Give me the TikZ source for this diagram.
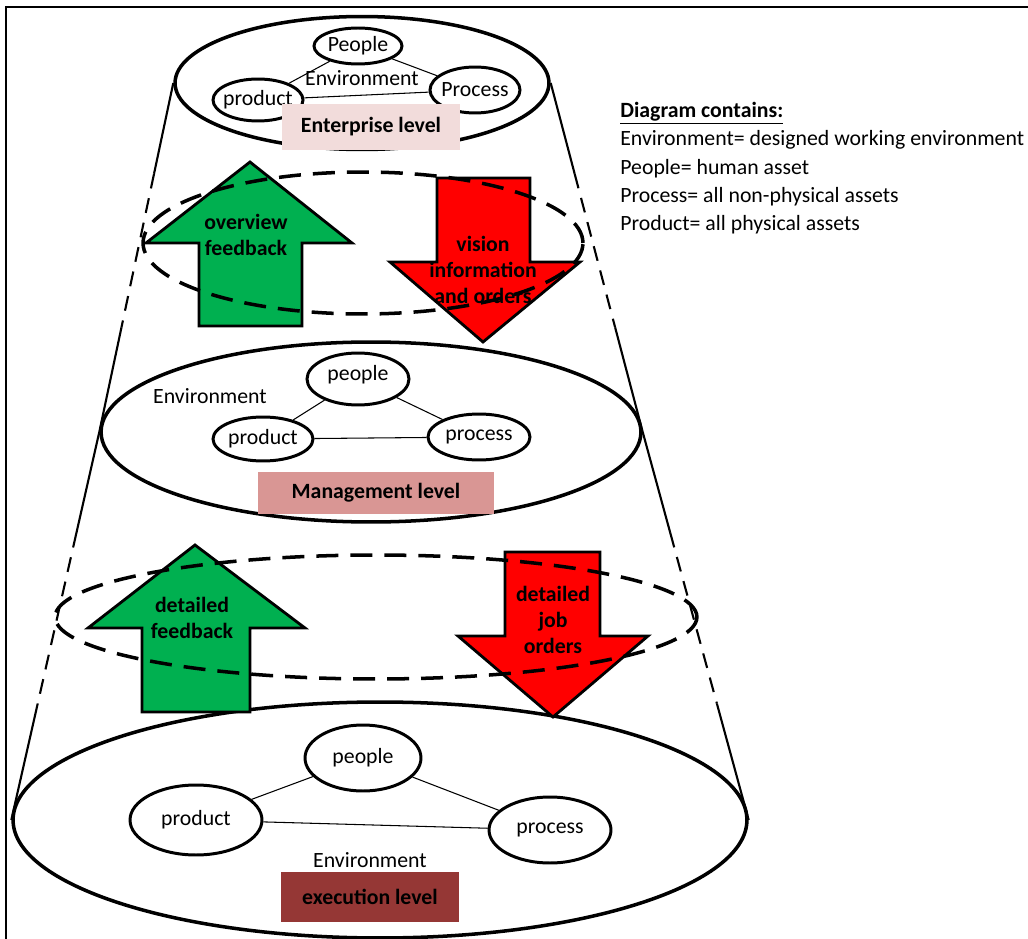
\documentclass[tikz,border=0pt]{standalone}
\usepackage{fontspec}
\setmainfont{Carlito}
\usetikzlibrary{shapes.geometric,positioning,calc}
\definecolor{lvlpink}{RGB}{242,220,219}
\definecolor{lvlrose}{RGB}{217,150,148}
\definecolor{lvlbrown}{RGB}{149,55,53}
\definecolor{upgreen}{RGB}{0,176,80}
\definecolor{downred}{RGB}{255,0,0}

\begin{document}
\begin{tikzpicture}[x=0.02cm, y=-0.02cm,
  font=\fontsize{12.4}{14.7}\selectfont,
  level/.style={draw, ellipse, line width=2pt, inner sep=0pt},
  part/.style={draw, ellipse, line width=1.7pt, inner xsep=-6pt, inner ysep=0pt},
  ring/.style={draw, ellipse, line width=2pt, dash pattern=on 0.44cm off 0.24cm, inner sep=0pt},
  tag/.style={rectangle, inner sep=0pt, font=\fontsize{12.4}{14.7}\selectfont\bfseries},
  link/.style={draw, line width=0.6pt},
  side/.style={draw, line width=1.2pt},
  flow/.style={draw, line width=1.6pt, line join=miter},
  flowtext/.style={align=center, inner sep=0pt, font=\fontsize{12.4}{14.7}\selectfont\bfseries}
]
  \useasboundingbox (0,0) rectangle (1028,939);

  % Frame
  \draw[line width=1.3pt] (1028,7) -- (6,7) -- (6,939);

  % Level ellipses
  \node[level, minimum width=7.48cm, minimum height=2.66cm] (ent) at (362,83) {};
  \node[level, minimum width=10.8cm, minimum height=3.6cm] (mgmt) at (371,432) {};
  \node[level, minimum width=14.68cm, minimum height=4.72cm] (exec) at (380,820) {};

  % Cone sides
  \foreach \a/\b in {ent.west/mgmt.west, ent.east/mgmt.east, mgmt.west/exec.west, mgmt.east/exec.east} {
    \draw[side] (\a) -- ($(\a)!0.26!(\b)$);
    \draw[side, dash pattern=on 0.3cm off 0.2cm] ($(\a)!0.26!(\b)$) -- ($(\a)!0.7!(\b)$);
    \draw[side] ($(\a)!0.7!(\b)$) -- (\b);
  }

  % Upper arrows
  \draw[flow, fill=upgreen] (250,162) -- (352,243) -- (302,243) -- (302,326) -- (199,326) -- (199,243) -- (146,243) -- cycle;
  \node[flowtext] (up1) at (246,235) {overview\\feedback};
  \draw[flow, fill=downred] (437,178) -- (530,178) -- (530,262) -- (580,262) -- (483,342) -- (390,262) -- (437,262) -- cycle;
  \node[flowtext] (down1) at (483,270) {vision\\information\\and orders};

  % Lower arrows
  \draw[flow, fill=upgreen] (195,545) -- (305,628) -- (250,628) -- (250,712) -- (142,712) -- (142,628) -- (88,628) -- cycle;
  \node[flowtext] (up2) at (192,618) {detailed\\feedback};
  \draw[flow, fill=downred] (505,552) -- (600,552) -- (600,636) -- (648,636) -- (553,717) -- (458,636) -- (505,636) -- cycle;
  \node[flowtext] (down2) at (553,620) {detailed\\job\\orders};

  % Dashed rings
  \node[ring, minimum width=8.8cm, minimum height=2.84cm] (ring1) at (363,243) {};
  \node[ring, minimum width=12.84cm, minimum height=2.48cm] (ring2) at (376,617) {};

  % Enterprise parts
  \node[part, minimum width=1.76cm, minimum height=0.72cm] (ent-people) at (358,46) {People};
  \node[part, minimum width=1.8cm, minimum height=0.84cm] (ent-product) at (258,100) {product};
  \node[part, minimum width=1.8cm, minimum height=0.92cm] (ent-process) at (475,90) {Process};
  \node (ent-env) at (362,78) {Environment};

  % Management parts
  \node[part, minimum width=2.04cm, minimum height=1.04cm, text depth=0.25cm] (mgmt-people) at (358,379) {people};
  \node[part, minimum width=2.0cm, minimum height=0.88cm] (mgmt-product) at (263,439) {product};
  \node[part, minimum width=2.04cm, minimum height=0.92cm] (mgmt-process) at (479,437) {process};
  \node (mgmt-env) at (210,396) {Environment};

  % Execution parts
  \node[part, minimum width=2.32cm, minimum height=1.32cm] (exec-people) at (363,758) {people};
  \node[part, minimum width=2.64cm, minimum height=1.4cm] (exec-product) at (196,820) {product};
  \node[part, minimum width=2.44cm, minimum height=1.32cm] (exec-process) at (550,830) {process};
  \node (exec-env) at (370,860) {Environment};

  % Links
  \foreach \lv in {ent,mgmt,exec} {
    \draw[link] (\lv-people) -- (\lv-product);
    \draw[link] (\lv-people) -- (\lv-process);
    \draw[link] (\lv-product) -- (\lv-process);
  }

  % Level tags
  \node[tag, fill=lvlpink, minimum width=3.56cm, minimum height=0.94cm] (ent-tag) at (371,127) {Enterprise level};
  \node[tag, fill=lvlrose, minimum width=4.72cm, minimum height=0.86cm] (mgmt-tag) at (376,493) {Management level};
  \node[tag, fill=lvlbrown, minimum width=3.58cm, minimum height=1.0cm] (exec-tag) at (370,897) {execution level};

  % Legend
  \node[anchor=north west, align=left, inner sep=0pt, font=\fontsize{12.4}{16.1}\selectfont] (legend) at (620,102)
    {\underline{\textbf{Diagram contains:}}\\
     Environment= designed working environment\\
     People= human asset\\
     Process= all non-physical assets\\
     Product= all physical assets};

\end{tikzpicture}
\end{document}
